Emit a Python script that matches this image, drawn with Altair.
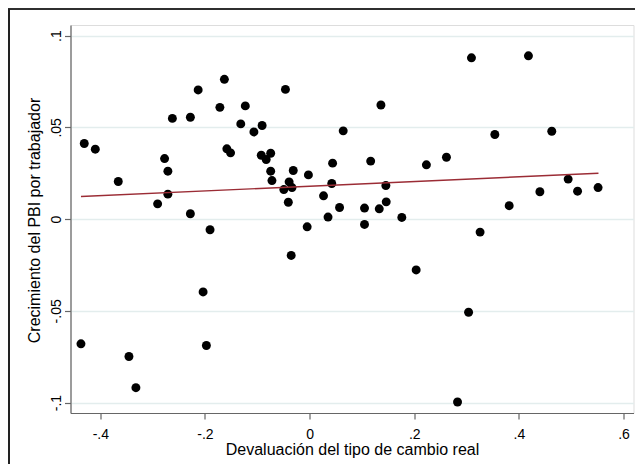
import altair as alt
import pandas as pd

# Devaluación del tipo de cambio real (x) y crecimiento del PBI por trabajador (y)
dev_x = [-0.4307, -0.4096, -0.3657, -0.4370, -0.3453, -0.3320, -0.2905, -0.2772, -0.2709, -0.2709,
         -0.2623, -0.2279, -0.2279, -0.2130, -0.2036, -0.1973, -0.1903, -0.1715, -0.1629, -0.1582,
         -0.1511, -0.1316, -0.1229, -0.1065, -0.0908, -0.0924, -0.0830, -0.0744, -0.0744, -0.0720,
         -0.0493, -0.0462, -0.0407, -0.0392, -0.0337, -0.0313, -0.0352, -0.0047, -0.0023, 0.0266,
         0.0352, 0.0439, 0.0423, 0.0572, 0.0642, 0.1049, 0.1049, 0.1167, 0.1331, 0.1363,
         0.1457, 0.1464, 0.1762, 0.2036, 0.2232, 0.2615, 0.2827, 0.3038, 0.3093, 0.3258,
         0.3540, 0.3814, 0.4182, 0.4401, 0.4628, 0.4941, 0.5121, 0.5513]
crec_y = [0.0412, 0.0381, 0.0205, -0.0680, -0.0749, -0.0919, 0.0083, 0.0330, 0.0261, 0.0136,
          0.0549, 0.0555, 0.0029, 0.0704, -0.0397, -0.0689, -0.0058, 0.0609, 0.0762, 0.0383,
          0.0361, 0.0519, 0.0617, 0.0475, 0.0510, 0.0348, 0.0325, 0.0359, 0.0261, 0.0210,
          0.0161, 0.0707, 0.0092, 0.0203, 0.0172, 0.0265, -0.0198, -0.0042, 0.0241, 0.0127,
          0.0011, 0.0305, 0.0194, 0.0063, 0.0481, 0.0060, -0.0029, 0.0316, 0.0056, 0.0622,
          0.0183, 0.0094, 0.0009, -0.0277, 0.0296, 0.0337, -0.0997, -0.0508, 0.0879, -0.0071,
          0.0461, 0.0073, 0.0890, 0.0149, 0.0479, 0.0218, 0.0152, 0.0172]

# Recta de ajuste (valores ajustados en los extremos)
fit_x = [-0.437, 0.552]
fit_y = [0.0123, 0.0250]

x_ticks = [-0.4, -0.2, 0, 0.2, 0.4, 0.6]
y_ticks = [-0.1, -0.05, 0, 0.05, 0.1]

pts = pd.DataFrame({"x": dev_x, "y": crec_y})
fit = pd.DataFrame({"x": fit_x, "y": fit_y})

FONT = "Liberation Sans"
lab = "replace(replace(format(datum.value, '~g'), '0.', '.'), '\u2212', '-')"

xscale = alt.Scale(domain=[-0.457, 0.619], nice=False, zero=False)
yscale = alt.Scale(domain=[-0.1057, 0.1058], nice=False, zero=False)

xaxis = alt.Axis(values=x_ticks, labelExpr=lab, title="Devaluación del tipo de cambio real",
                 grid=False, tickSize=6, labelPadding=8, labelFontSize=14, labelFont=FONT,
                 labelColor="black", titleFont=FONT, titleFontSize=16, titleFontWeight="normal",
                 titleColor="black", titleY=41, titleBaseline="alphabetic",
                 domainColor="#666666", tickColor="#666666", domainWidth=1.2, tickWidth=1.2)
yaxis = alt.Axis(values=y_ticks, labelExpr=lab, title="Crecimiento del PBI por trabajador",
                 grid=True, gridColor="#e3eded", gridWidth=1.5, tickSize=6, labelPadding=4,
                 labelAngle=270, labelAlign="center", labelBaseline="alphabetic",
                 labelFontSize=14, labelFont=FONT, labelColor="black",
                 titleFont=FONT, titleFontSize=16, titleFontWeight="normal", titleColor="black",
                 titleAngle=270, titleX=-31, titleY=195, titleAlign="center",
                 titleBaseline="alphabetic",
                 domainColor="#666666", tickColor="#666666", domainWidth=1.2, tickWidth=1.2)

points = alt.Chart(pts).mark_circle(size=80, color="black", opacity=1).encode(
    x=alt.X("x:Q", scale=xscale, axis=xaxis),
    y=alt.Y("y:Q", scale=yscale, axis=yaxis),
)
line = alt.Chart(fit).mark_line(color="#9b2c35", strokeWidth=1.4).encode(
    x=alt.X("x:Q", scale=xscale),
    y=alt.Y("y:Q", scale=yscale),
)
frame_left = alt.Chart(fit).mark_rule(color="#222222", strokeWidth=2).encode(
    x=alt.value(-61.5), y=alt.value(-16), y2=alt.value(460))
frame_top = alt.Chart(fit).mark_rule(color="#222222", strokeWidth=1.5).encode(
    x=alt.value(-62.5), x2=alt.value(570), y=alt.value(-16))

chart = alt.layer(points, line, frame_left, frame_top).properties(
    width=563, height=388,
    autosize=alt.AutoSizeParams(type="none"),
    padding={"left": 62.5, "top": 17, "right": 1.5, "bottom": 51},
).configure_view(stroke=None).configure(background="white")

chart.save("out.html", embed_options={"renderer": "svg", "actions": False})
